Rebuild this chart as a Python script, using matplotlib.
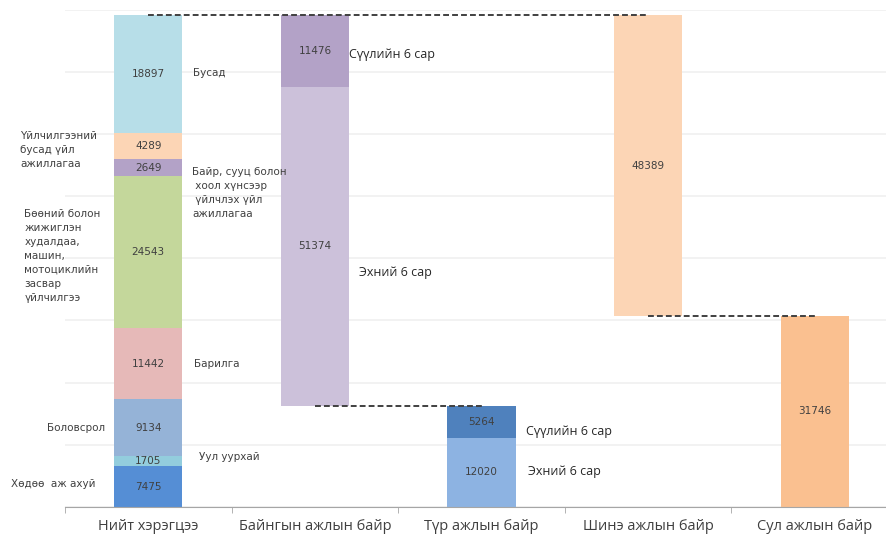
import numpy as np
from matplotlib import pyplot as plt

# Data
categories = ["Нийт хэрэгцээ", "Байнгын ажлын байр", "Түр ажлын байр",
              "Шинэ ажлын байр", "Сул ажлын байр"]
sector_names = ["Хөдөө  аж ахуй", "Уул уурхай", "Боловсрол", "Барилга",
                "Бөөний болон\nжижиглэн\nхудалдаа,\nмашин,\nмотоциклийн\nзасвар\nүйлчилгээ",
                "Байр, сууц болон\n хоол хүнсээр\n үйлчлэх үйл\nажиллагаа",
                "Үйлчилгээний\nбусад үйл\nажиллагаа",
                "Бусад"]
sector_values = [7475, 1705, 9134, 11442, 24543, 2649, 4289, 18897]
half_names = ["Эхний 6 сар", "Сүүлийн 6 сар"]
permanent_values = [51374, 11476]
temporary_values = [12020, 5264]
new_jobs = 48389
vacant_jobs = 31746

# Styles
sector_colors = ["#558ed5", "#93cddd", "#95b3d7", "#e6b9b8",
                 "#c4d79b", "#b3a2c7", "#fcd5b5", "#b7dee8"]
permanent_colors = ["#ccc1da", "#b3a2c7"]
temporary_colors = ["#8db3e2", "#4f81bd"]
# label offsets in pixels from (bar centre, visible segment centre), +dy = down
sector_offsets = [(-137, -3), (51, -4), (-101, 0), (46, 0),
                  (-124, 4), (44, 25), (-128, 4), (45, -1)]
perm_offsets = [(44, 26), (34, 3)]
temp_offsets = [(46, -1), (45, 10)]

YMIN, YMAX = 1000, 81000

W, H = 887, 537
fig = plt.figure(figsize=(W / 100, H / 100), dpi=100)
ax = fig.add_axes([65 / W, (H - 506.7) / H, 833 / W, 496.7 / H])

width = 0.41
text_col = "#404040"
val_font = dict(family="DejaVu Sans", fontsize=7.5, color=text_col,
                ha="center", va="center")
lab_font = dict(family="DejaVu Sans", fontsize=7.5, color=text_col,
                ha="left", va="center", linespacing=1.5)
half_font = dict(family="Open Sans", fontsize=9, color="#262626",
                 ha="left", va="center")


def stack(x, values, colors, bottom0=0):
    bottoms = bottom0 + np.concatenate([[0], np.cumsum(values)[:-1]])
    tops = bottoms + np.array(values)
    ax.bar([x] * len(values), values, width, bottom=bottoms,
           color=colors, zorder=2)
    # centre of the visible part of each segment
    centers = (np.maximum(bottoms, YMIN) + tops) / 2
    for v, c in zip(values, centers):
        ax.text(x, c, str(v), zorder=4, **val_font)
    return centers


total = sum(sector_values)
centers = stack(0, sector_values, sector_colors)
for name, c, (dx, dy) in zip(sector_names, centers, sector_offsets):
    ax.annotate(name, (0, c), xytext=(dx, -dy), textcoords="offset pixels",
                **lab_font)

temp_total = sum(temporary_values)
centers = stack(1, permanent_values, permanent_colors, bottom0=temp_total)
for name, c, (dx, dy) in zip(half_names, centers, perm_offsets):
    ax.annotate(name, (1, c), xytext=(dx, -dy), textcoords="offset pixels",
                **half_font)

centers = stack(2, temporary_values, temporary_colors)
for name, c, (dx, dy) in zip(half_names, centers, temp_offsets):
    ax.annotate(name, (2, c), xytext=(dx, -dy), textcoords="offset pixels",
                **half_font)

stack(3, [new_jobs], ["#fcd5b5"], bottom0=total - new_jobs)
stack(4, [vacant_jobs], ["#fac090"])

# connectors
dash = dict(color="#404040", lw=1.4, ls=(0, (3, 1.6)), zorder=3)
ax.plot([0, 3], [total, total], **dash)
ax.plot([1, 2], [temp_total, temp_total], **dash)
ax.plot([3, 4], [total - new_jobs, total - new_jobs], **dash)

ax.set_xlim(-0.5, 4.5)
ax.set_ylim(YMIN, YMAX)
ax.set_yticks(np.arange(YMIN, YMAX + 1, 10000))
ax.yaxis.grid(True, color="#f0f0f0", lw=1.2, zorder=0)
ax.tick_params(axis="y", left=False, labelleft=False)
ax.set_xticks(np.arange(len(categories)))
ax.set_xticklabels(categories, family="Open Sans", fontsize=10.5,
                   color=text_col)
ax.set_xticks(np.arange(len(categories)) - 0.5, minor=True)
ax.tick_params(axis="x", which="major", length=0, pad=9)
ax.tick_params(axis="x", which="minor", length=4, color="#a6a6a6")
for s in ["top", "right", "left"]:
    ax.spines[s].set_visible(False)
ax.spines["bottom"].set_color("#a6a6a6")
ax.set_axisbelow(True)

fig.savefig("out.png", dpi=100)
